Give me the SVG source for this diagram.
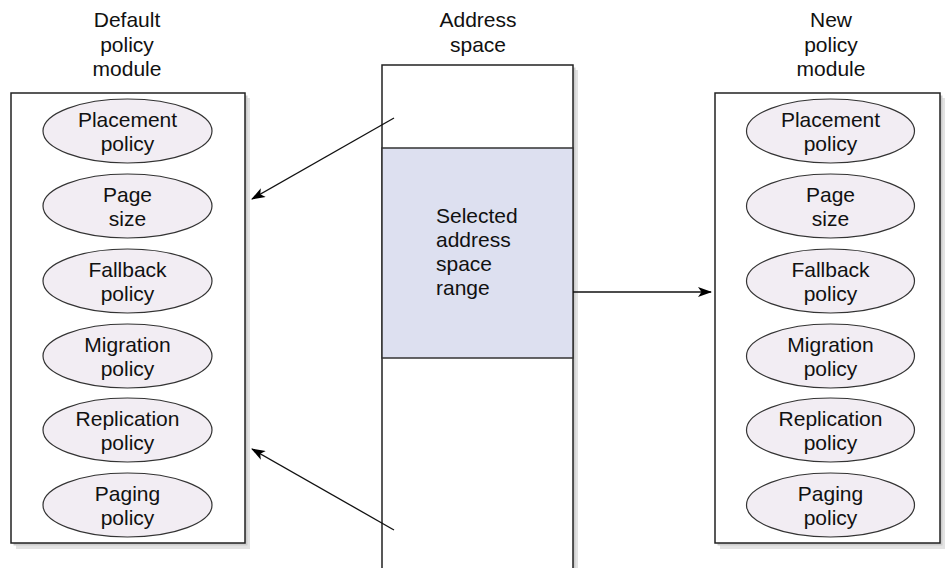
<svg xmlns="http://www.w3.org/2000/svg" width="948" height="568" viewBox="0 0 948 568">
<defs>
<style>
text{font-family:"Liberation Sans",Arial,sans-serif;font-size:21px;fill:#111;}
.c{text-anchor:middle;}
.box{fill:#fff;stroke:#222;stroke-width:1.5;}
.sh1{fill:#e3e3e3;}
.sh2{fill:#cdcdcd;}
.pol{fill:#f2edf3;stroke:#333;stroke-width:1.2;}
.conn{stroke:#111;stroke-width:1.3;fill:none;marker-end:url(#ah);}
</style>
<marker id="ah" viewBox="0 0 14 10" refX="13" refY="5" markerWidth="14" markerHeight="10" markerUnits="userSpaceOnUse" orient="auto">
<path d="M0,0 L14,5 L0,10 L3.5,5 z" fill="#000"/>
</marker>
</defs>
<rect width="948" height="568" fill="#fff"/>

<g id="default-module">
<rect class="sh1" x="16" y="98" width="234" height="451"/>
<rect class="sh2" x="13.5" y="95.5" width="234" height="450"/>
<rect class="box" x="11" y="93" width="234" height="450"/>
<text class="c" x="127" y="27">Default</text>
<text class="c" x="127" y="51.5">policy</text>
<text class="c" x="127" y="76">module</text>
</g>
<g id="d-placement"><ellipse class="pol" cx="127.5" cy="131" rx="84.5" ry="32"/><text class="c" x="127.5" y="126.5">Placement</text><text class="c" x="127.5" y="150.5">policy</text></g>
<g id="d-pagesize"><ellipse class="pol" cx="127.5" cy="206" rx="84.5" ry="32"/><text class="c" x="127.5" y="201.5">Page</text><text class="c" x="127.5" y="225.5">size</text></g>
<g id="d-fallback"><ellipse class="pol" cx="127.5" cy="281" rx="84.5" ry="32"/><text class="c" x="127.5" y="276.5">Fallback</text><text class="c" x="127.5" y="300.5">policy</text></g>
<g id="d-migration"><ellipse class="pol" cx="127.5" cy="356" rx="84.5" ry="32"/><text class="c" x="127.5" y="351.5">Migration</text><text class="c" x="127.5" y="375.5">policy</text></g>
<g id="d-replication"><ellipse class="pol" cx="127.5" cy="430" rx="84.5" ry="32"/><text class="c" x="127.5" y="425.5">Replication</text><text class="c" x="127.5" y="449.5">policy</text></g>
<g id="d-paging"><ellipse class="pol" cx="127.5" cy="505" rx="84.5" ry="32"/><text class="c" x="127.5" y="500.5">Paging</text><text class="c" x="127.5" y="524.5">policy</text></g>

<g id="address-space">
<rect class="sh1" x="387" y="70" width="191" height="510"/>
<rect class="sh2" x="384.5" y="67.5" width="191" height="510"/>
<rect class="box" x="382" y="65" width="191" height="520"/>
<rect x="382" y="148" width="191" height="210" fill="#dde0f0" stroke="#333" stroke-width="1.5"/>
<text class="c" x="478" y="27">Address</text>
<text class="c" x="478" y="51.5">space</text>
</g>
<g id="selected-range">
<text x="436" y="223">Selected</text>
<text x="436" y="247">address</text>
<text x="436" y="271">space</text>
<text x="436" y="295">range</text>
</g>

<g id="new-module">
<rect class="sh1" x="720" y="98" width="225" height="451"/>
<rect class="sh2" x="717.5" y="95.5" width="225" height="450"/>
<rect class="box" x="715" y="93" width="225" height="450"/>
<text class="c" x="831" y="27">New</text>
<text class="c" x="831" y="51.5">policy</text>
<text class="c" x="831" y="76">module</text>
</g>
<g id="n-placement"><ellipse class="pol" cx="830.5" cy="131" rx="84" ry="32"/><text class="c" x="830.5" y="126.5">Placement</text><text class="c" x="830.5" y="150.5">policy</text></g>
<g id="n-pagesize"><ellipse class="pol" cx="830.5" cy="206" rx="84" ry="32"/><text class="c" x="830.5" y="201.5">Page</text><text class="c" x="830.5" y="225.5">size</text></g>
<g id="n-fallback"><ellipse class="pol" cx="830.5" cy="281" rx="84" ry="32"/><text class="c" x="830.5" y="276.5">Fallback</text><text class="c" x="830.5" y="300.5">policy</text></g>
<g id="n-migration"><ellipse class="pol" cx="830.5" cy="356" rx="84" ry="32"/><text class="c" x="830.5" y="351.5">Migration</text><text class="c" x="830.5" y="375.5">policy</text></g>
<g id="n-replication"><ellipse class="pol" cx="830.5" cy="430" rx="84" ry="32"/><text class="c" x="830.5" y="425.5">Replication</text><text class="c" x="830.5" y="449.5">policy</text></g>
<g id="n-paging"><ellipse class="pol" cx="830.5" cy="505" rx="84" ry="32"/><text class="c" x="830.5" y="500.5">Paging</text><text class="c" x="830.5" y="524.5">policy</text></g>

<g id="connectors">
<line class="conn" x1="394" y1="118" x2="252" y2="199"/>
<line class="conn" x1="394" y1="530" x2="252" y2="449"/>
<line class="conn" x1="573" y1="292" x2="711" y2="292"/>
</g>
</svg>
